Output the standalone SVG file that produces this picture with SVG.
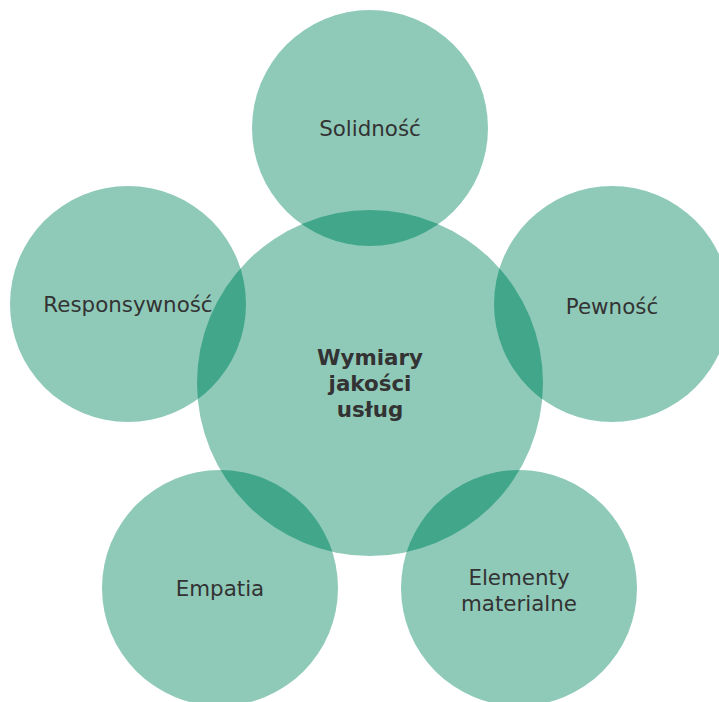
<svg xmlns="http://www.w3.org/2000/svg" width="719" height="702" viewBox="0 0 719 702">
<style>
.c{fill:#8fcab9}
.o{fill:#42a78a}
.t{font-family:"DejaVu Sans",sans-serif;font-size:21.4px;fill:#333;text-anchor:middle;dominant-baseline:central}
.b{font-weight:bold}
</style>
<defs>
<clipPath id="cc"><circle cx="370" cy="383" r="173"/></clipPath>
</defs>
<rect width="719" height="702" fill="#fff"/>
<g id="center"><circle class="c" cx="370" cy="383" r="173"/></g>
<g id="solidnosc"><circle class="c" cx="370" cy="128" r="118"/></g>
<g id="pewnosc"><circle class="c" cx="612" cy="304" r="118"/></g>
<g id="responsywnosc"><circle class="c" cx="128" cy="304" r="118"/></g>
<g id="empatia"><circle class="c" cx="220" cy="588" r="118"/></g>
<g id="elementy"><circle class="c" cx="519" cy="588" r="118"/></g>
<g id="overlaps" clip-path="url(#cc)">
<circle class="o" cx="370" cy="128" r="118"/>
<circle class="o" cx="612" cy="304" r="118"/>
<circle class="o" cx="128" cy="304" r="118"/>
<circle class="o" cx="220" cy="588" r="118"/>
<circle class="o" cx="519" cy="588" r="118"/>
</g>
<g id="labels">
<text class="t b" x="370" y="357">Wymiary</text>
<text class="t b" x="370" y="383">jakości</text>
<text class="t b" x="370" y="409">usług</text>
<text class="t" x="370" y="128">Solidność</text>
<text class="t" x="612" y="306">Pewność</text>
<text class="t" x="128" y="304">Responsywność</text>
<text class="t" x="220" y="588">Empatia</text>
<text class="t" x="519" y="577">Elementy</text>
<text class="t" x="519" y="603">materialne</text>
</g>
</svg>
